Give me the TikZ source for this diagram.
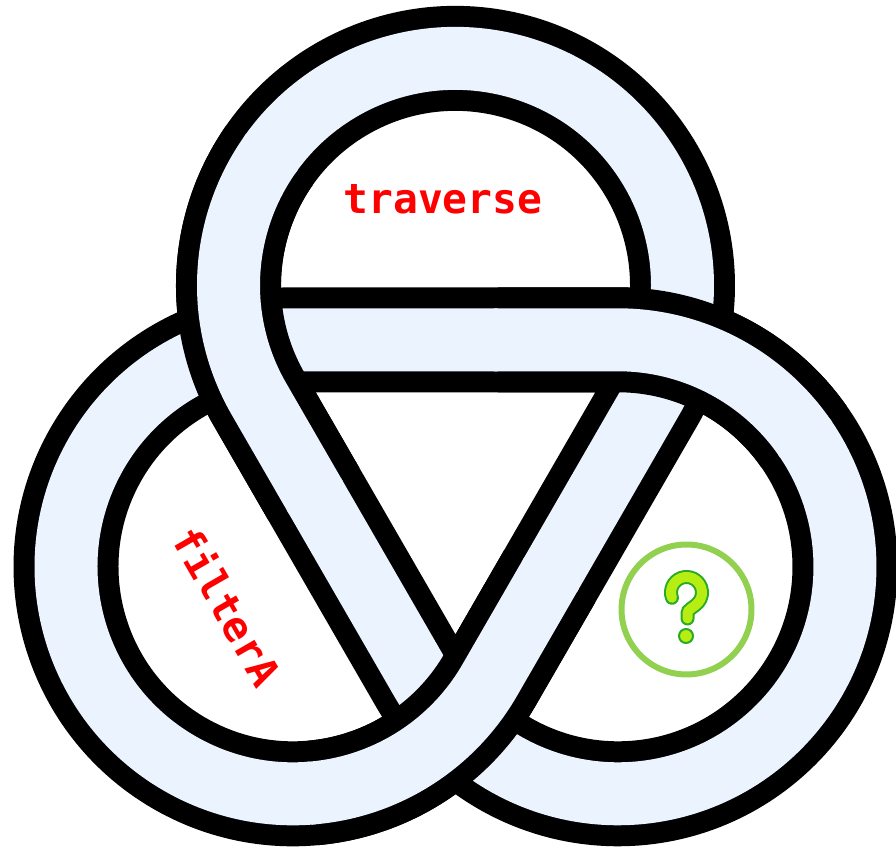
\documentclass[tikz,border=0pt]{standalone}
\usepackage{fontspec}
\newfontfamily\monofnt{DejaVu Sans Mono}
\usetikzlibrary{calc}
\definecolor{knotblue}{RGB}{235,243,254}
\definecolor{lblred}{RGB}{255,0,0}
\definecolor{ringgreen}{RGB}{146,208,80}
\definecolor{qfill}{RGB}{182,238,20}
\definecolor{qline}{RGB}{40,170,40}
\tikzset{
  bandblack/.style={draw=black, line width=2.1cm},
  bandfill/.style={draw=knotblue, line width=1.26cm},
  lbl/.style={text=lblred, font=\monofnt\bfseries\fontsize{23.5pt}{28pt}\selectfont, inner sep=0pt},
  qring/.style={circle, draw=ringgreen, line width=0.12cm, minimum size=2.6cm, inner sep=0pt},
  qout/.style={draw=qline, line width=0.28cm, line cap=round},
  qin/.style={draw=qfill, line width=0.2cm, line cap=round}
}
\begin{document}
\begin{tikzpicture}[x=0.02cm,y=0.02cm]
\useasboundingbox (0,0) rectangle (896,851);
\def\R{227}
\coordinate (O) at (455.5,378);
\coordinate (T) at ($(O)+(90:187.6)$);
\coordinate (L) at ($(O)+(210:187.6)$);
\coordinate (Rr) at ($(O)+(330:187.6)$);
% full knot band
\foreach \sty in {bandblack,bandfill}{
\draw[\sty] ($(L)+(90:\R)$) -- ($(Rr)+(90:\R)$)
  arc[start angle=90,end angle=-150,radius=\R]
  -- ($(T)+(210:\R)$) arc[start angle=210,end angle=-30,radius=\R]
  -- ($(L)+(330:\R)$) arc[start angle=330,end angle=90,radius=\R] -- cycle;
}
% crossing A: top lobe over
\draw[bandblack] ($(T)+(210:\R)+(300:110)$) -- ($(T)+(210:\R)$) arc[start angle=210,end angle=145,radius=\R];
\draw[bandfill] ($(T)+(210:\R)+(300:114)$) -- ($(T)+(210:\R)$) arc[start angle=210,end angle=144,radius=\R];
% crossing B: right lobe over
\draw[bandblack] ($(Rr)+(90:\R)+(180:120)$) -- ($(Rr)+(90:\R)$) arc[start angle=90,end angle=35,radius=\R];
\draw[bandfill] ($(Rr)+(90:\R)+(180:124)$) -- ($(Rr)+(90:\R)$) arc[start angle=90,end angle=34,radius=\R];
% crossing C: left lobe over
\draw[bandblack] ($(L)+(330:\R)+(60:120)$) -- ($(L)+(330:\R)$) arc[start angle=330,end angle=275,radius=\R];
\draw[bandfill] ($(L)+(330:\R)+(60:124)$) -- ($(L)+(330:\R)$) arc[start angle=330,end angle=274,radius=\R];
% labels
\node[lbl] (trav) at (443,652) {traverse};
\node[lbl, rotate=-60] (filt) at (228,245) {filterA};
% question mark
\node[qring] (q) at (686.5,241.5) {};
\foreach \sty in {qout,qin}{
\draw[\sty] ($(q)+(0,17)+(200:15.5)$) arc[start angle=200,end angle=-40,radius=15.5]
  .. controls ($(q)+(6,1)$) and ($(q)+(1,0)$) .. ($(q)+(1,-4)$) -- ($(q)+(1,-9)$);
}
\fill[qfill, draw=qline, line width=0.04cm] ($(q)+(-0.5,-26.5)$) circle[radius=7];
\end{tikzpicture}
\end{document}
